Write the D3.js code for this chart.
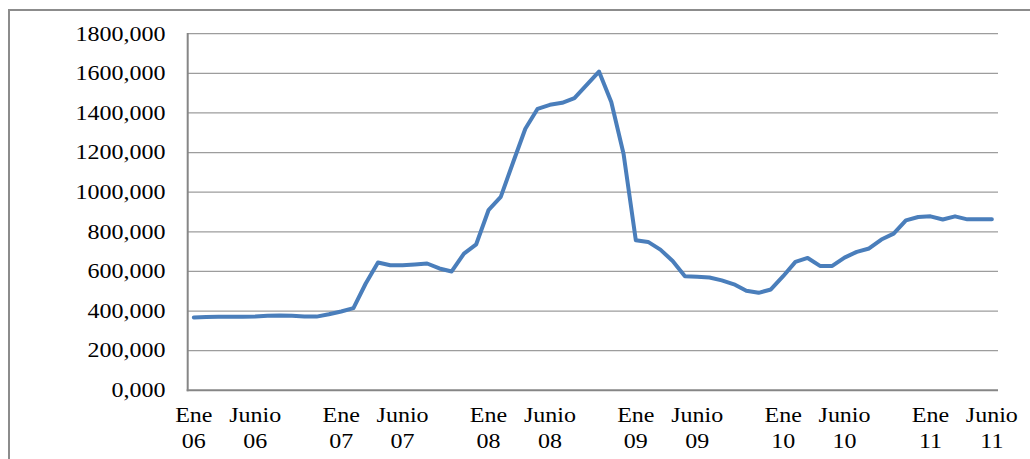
<!DOCTYPE html>
<html>
<head>
<meta charset="utf-8">
<script src="https://cdn.jsdelivr.net/npm/d3@7"></script>
<style>
  html, body { margin: 0; padding: 0; background: #fff; }
  svg { display: block; }
  text { font-family: "Liberation Serif", "Times New Roman", serif; fill: #000; }
</style>
</head>
<body>
<svg id="chart" width="1030" height="459"></svg>
<script>
// Monthly series, Jan 2006 – Jun 2011
const monthNames = ["Ene", "Feb", "Mar", "Abr", "May", "Junio", "Jul", "Ago", "Sep", "Oct", "Nov", "Dic"];
const years = ["06", "07", "08", "09", "10", "11"];
const categories = [];
years.forEach(y => monthNames.forEach(m => categories.push(m + " " + y)));
categories.length = 66; // series ends in June 2011

const values = [
  368, 370, 371, 371, 371, 372,
  376, 378, 376, 373, 372, 384,
  398, 415, 539, 645, 631, 631,
  635, 640, 615, 600, 690, 737,
  909, 976, 1150, 1320, 1421, 1441,
  1451, 1475, 1542, 1609, 1455, 1194,
  757, 749, 710, 653, 576, 573,
  569, 555, 535, 502, 492, 509,
  576, 648, 668, 628, 628, 670,
  699, 716, 761, 791, 858, 875,
  878, 862, 878, 863, 863, 863
];

// Labelled months on the category axis
const xTickLabels = [
  "Ene 06", "Junio 06", "Ene 07", "Junio 07", "Ene 08", "Junio 08",
  "Ene 09", "Junio 09", "Ene 10", "Junio 10", "Ene 11", "Junio 11"
];
const yTicks = [0, 200, 400, 600, 800, 1000, 1200, 1400, 1600, 1800];

const svg = d3.select("#chart");
const plot = { left: 187.7, right: 998, top: 33.7, bottom: 390.3 };
const stretch = 1.2;

const x = d3.scaleBand().domain(categories).range([plot.left, plot.right]).padding(0);
const cx = c => x(c) + x.bandwidth() / 2;
const y = d3.scaleLinear().domain([0, 1800]).range([plot.bottom, plot.top]);

// Outer frame
svg.append("path")
  .attr("d", `M9,459 V10 H1030`)
  .attr("fill", "none")
  .attr("stroke", "#8c8c8c")
  .attr("stroke-width", 2);

// Horizontal gridlines
svg.append("g")
  .selectAll("line")
  .data(yTicks.filter(t => t > 0))
  .join("line")
  .attr("x1", plot.left)
  .attr("x2", plot.right)
  .attr("y1", d => y(d))
  .attr("y2", d => y(d))
  .attr("stroke", "#9d9d9d")
  .attr("stroke-width", 1.3);

// Axis lines
svg.append("line")
  .attr("x1", plot.left).attr("x2", plot.left)
  .attr("y1", plot.top - 0.7).attr("y2", plot.bottom + 1)
  .attr("stroke", "#868686").attr("stroke-width", 2);
svg.append("line")
  .attr("x1", plot.left - 1).attr("x2", plot.right)
  .attr("y1", plot.bottom).attr("y2", plot.bottom)
  .attr("stroke", "#868686").attr("stroke-width", 2);

// Y tick labels
const fmtY = d => d + ",000";
svg.append("g")
  .selectAll("text")
  .data(yTicks)
  .join("text")
  .attr("transform", d => `translate(165.5,${y(d)}) scale(${stretch},1)`)
  .attr("text-anchor", "end")
  .attr("dy", "0.34em")
  .attr("font-size", 20)
  .text(fmtY);

// X tick labels, two lines each
const xl = svg.append("g")
  .selectAll("g")
  .data(xTickLabels)
  .join("g")
  .attr("transform", d => `translate(${cx(d)},0)`);
xl.append("text")
  .attr("transform", `translate(0,421.5) scale(${stretch},1)`)
  .attr("text-anchor", "middle")
  .attr("font-size", 20)
  .text(d => d.split(" ")[0]);
xl.append("text")
  .attr("transform", `translate(0,448) scale(${stretch},1)`)
  .attr("text-anchor", "middle")
  .attr("font-size", 20)
  .text(d => d.split(" ")[1]);

// Series line
const line = d3.line()
  .x((d, i) => cx(categories[i]))
  .y(d => y(d));
svg.append("path")
  .datum(values)
  .attr("d", line)
  .attr("fill", "none")
  .attr("stroke", "#4a7ebb")
  .attr("stroke-width", 4)
  .attr("stroke-linejoin", "round")
  .attr("stroke-linecap", "round");
</script>
</body>
</html>
